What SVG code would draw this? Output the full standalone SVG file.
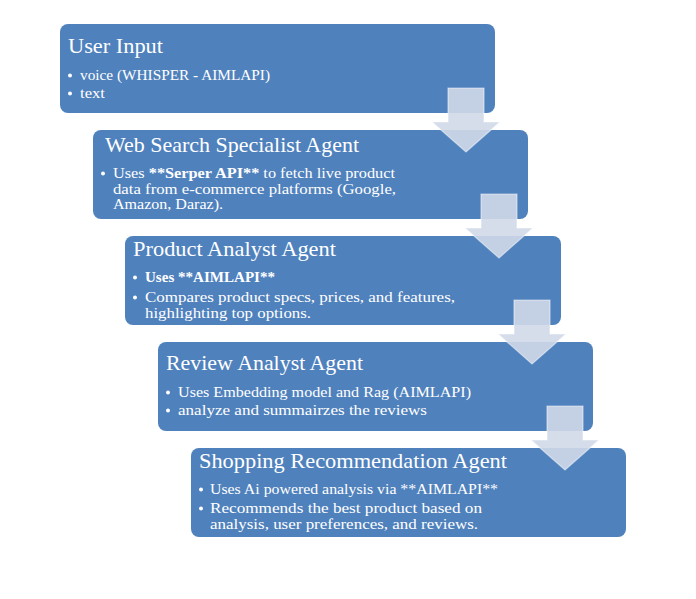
<svg xmlns="http://www.w3.org/2000/svg" width="696" height="599" viewBox="0 0 696 599">
<style>
.box{fill:#4f81bd}
.t{font-family:"Liberation Serif","DejaVu Serif",serif;fill:#ffffff}
.title{font-size:22px}
.body{font-size:15px}
.b{font-weight:bold}
.dot{fill:#ffffff}
.arr{fill:#d0d8e8;fill-opacity:0.9;stroke:#ffffff;stroke-opacity:0.5;stroke-width:1.2}
</style>
<defs>
<path id="arrow" d="M448,88 H484 V122 H500 L466,152 L432,122 H448 Z"/>
</defs>
<rect width="696" height="599" fill="#ffffff"/>
<g id="node-user-input">
<rect class="box" x="60" y="24" width="435" height="89" rx="8"/>
<text class="t title" x="68" y="53" textLength="95" lengthAdjust="spacingAndGlyphs">User Input</text>
<circle class="dot" cx="70" cy="75.5" r="2"/>
<text class="t body" x="80" y="80" textLength="190" lengthAdjust="spacingAndGlyphs">voice (WHISPER - AIMLAPI)</text>
<circle class="dot" cx="70" cy="93.5" r="2"/>
<text class="t body" x="80" y="98" textLength="25" lengthAdjust="spacingAndGlyphs">text</text>
</g>
<g id="node-web-search">
<rect class="box" x="93" y="130" width="435" height="89" rx="8"/>
<text class="t title" x="105" y="152" textLength="254" lengthAdjust="spacingAndGlyphs">Web Search Specialist Agent</text>
<circle class="dot" cx="103" cy="173.5" r="2"/>
<text class="t body" x="113" y="178" textLength="282" lengthAdjust="spacingAndGlyphs">Uses <tspan class="b">**Serper API**</tspan> to fetch live product</text>
<text class="t body" x="113" y="193.5" textLength="283" lengthAdjust="spacingAndGlyphs">data from e-commerce platforms (Google,</text>
<text class="t body" x="113" y="209" textLength="110" lengthAdjust="spacingAndGlyphs">Amazon, Daraz).</text>
</g>
<g id="node-product-analyst">
<rect class="box" x="125" y="236" width="436" height="89" rx="8"/>
<text class="t title" x="133" y="256" textLength="203" lengthAdjust="spacingAndGlyphs">Product Analyst Agent</text>
<circle class="dot" cx="135" cy="277.5" r="2"/>
<text class="t body b" x="145" y="282" textLength="130" lengthAdjust="spacingAndGlyphs">Uses **AIMLAPI**</text>
<circle class="dot" cx="135" cy="297.5" r="2"/>
<text class="t body" x="145" y="302" textLength="310" lengthAdjust="spacingAndGlyphs">Compares product specs, prices, and features,</text>
<text class="t body" x="145" y="317.5" textLength="166" lengthAdjust="spacingAndGlyphs">highlighting top options.</text>
</g>
<g id="node-review-analyst">
<rect class="box" x="158" y="342" width="435" height="89" rx="8"/>
<text class="t title" x="166" y="370" textLength="197" lengthAdjust="spacingAndGlyphs">Review Analyst Agent</text>
<circle class="dot" cx="168" cy="392.5" r="2"/>
<text class="t body" x="178" y="397" textLength="293" lengthAdjust="spacingAndGlyphs">Uses Embedding model and Rag (AIMLAPI)</text>
<circle class="dot" cx="168" cy="410.5" r="2"/>
<text class="t body" x="178" y="415" textLength="249" lengthAdjust="spacingAndGlyphs">analyze and summairzes the reviews</text>
</g>
<g id="node-shopping-recommendation">
<rect class="box" x="191" y="448" width="435" height="89" rx="8"/>
<text class="t title" x="199" y="468" textLength="308" lengthAdjust="spacingAndGlyphs">Shopping Recommendation Agent</text>
<circle class="dot" cx="201" cy="489.5" r="2"/>
<text class="t body" x="210" y="494" textLength="288" lengthAdjust="spacingAndGlyphs">Uses Ai powered analysis via **AIMLAPI**</text>
<circle class="dot" cx="201" cy="508.5" r="2"/>
<text class="t body" x="210" y="513" textLength="272" lengthAdjust="spacingAndGlyphs">Recommends the best product based on</text>
<text class="t body" x="210" y="528.5" textLength="268" lengthAdjust="spacingAndGlyphs">analysis, user preferences, and reviews.</text>
</g>
<g id="connectors">
<use href="#arrow" class="arr"/>
<use href="#arrow" class="arr" transform="translate(33,106)"/>
<use href="#arrow" class="arr" transform="translate(66,212)"/>
<use href="#arrow" class="arr" transform="translate(99,318)"/>
</g>
</svg>
